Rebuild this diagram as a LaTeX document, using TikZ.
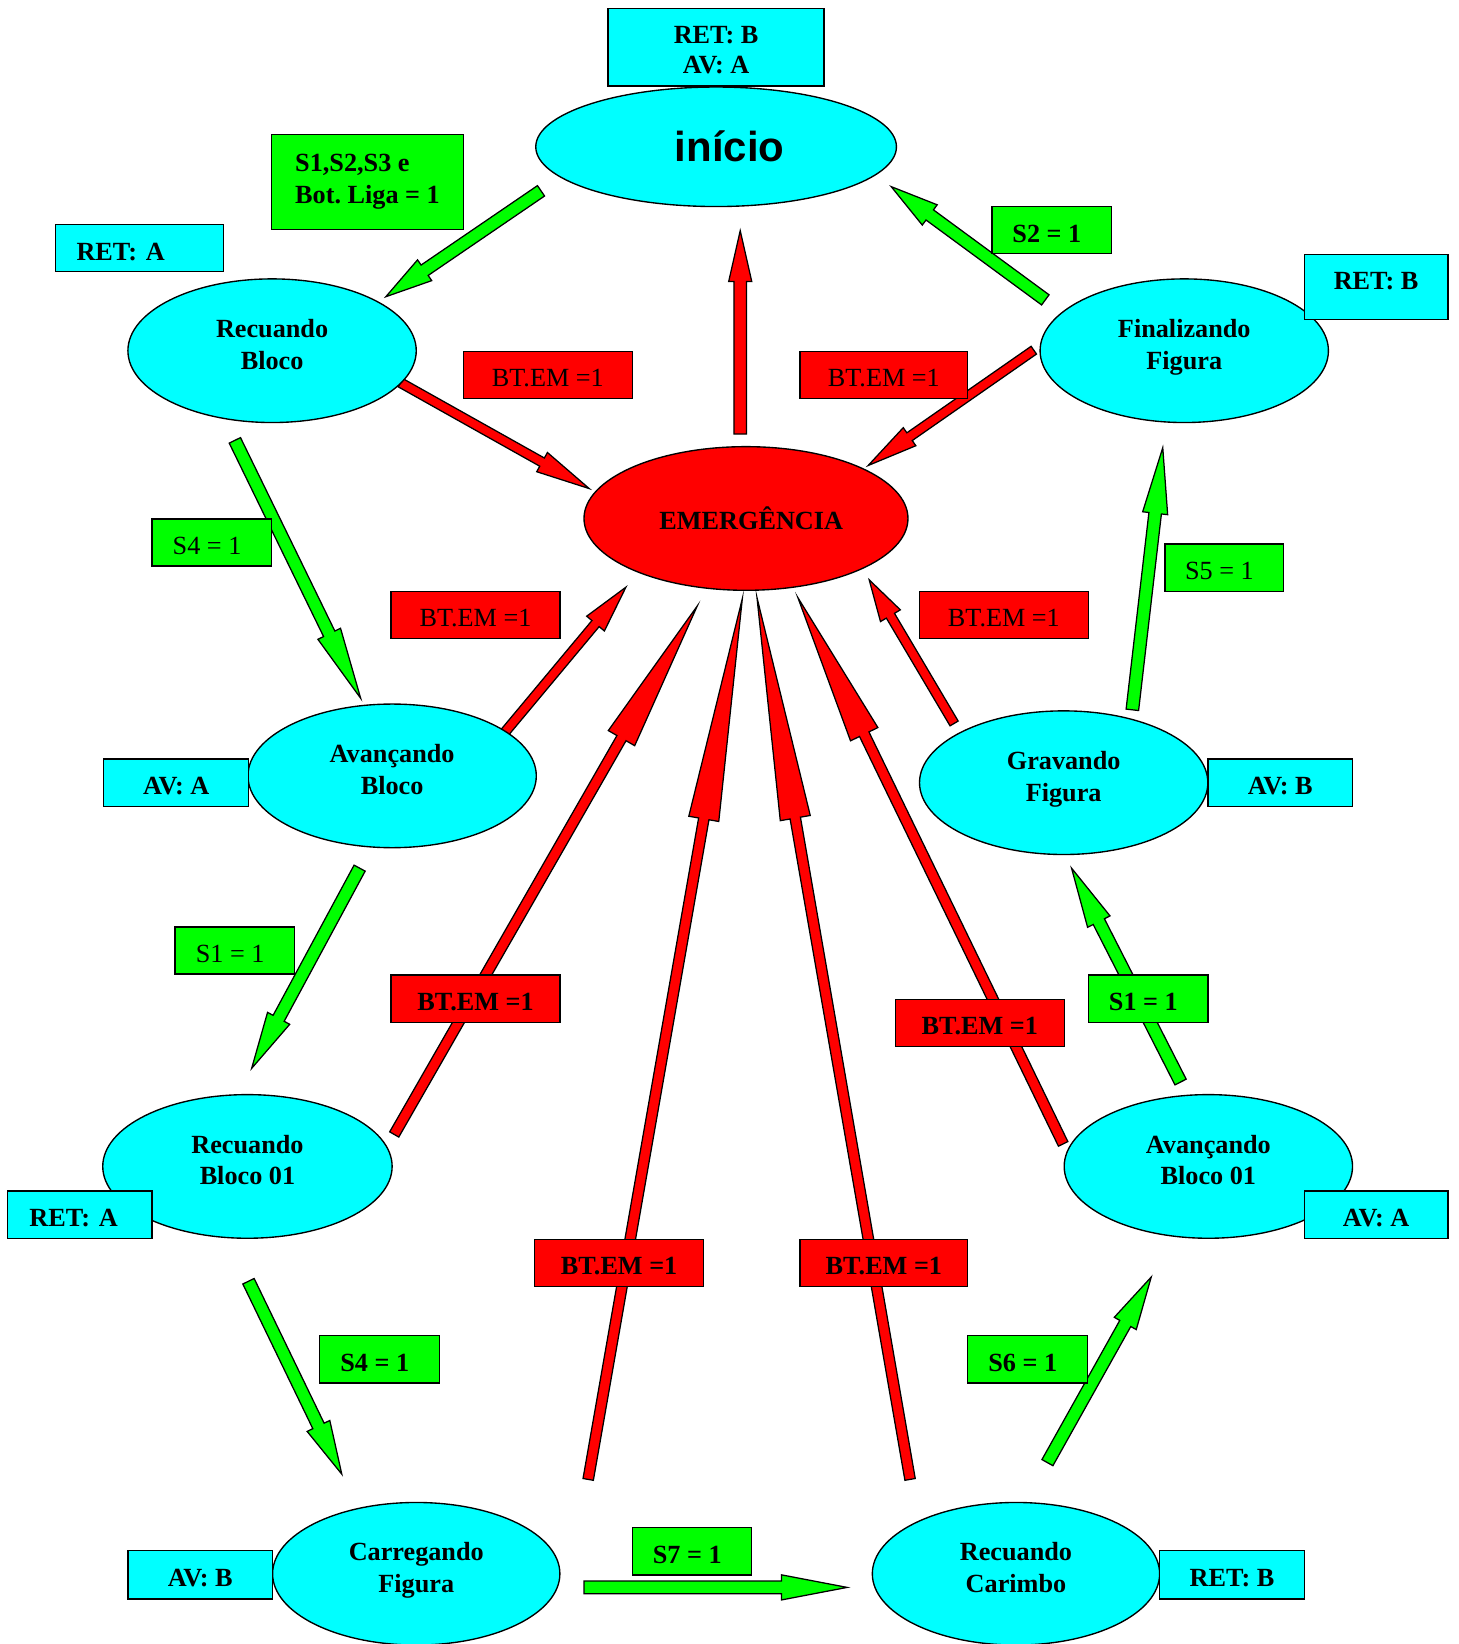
\documentclass[tikz,border=0pt]{standalone}
\usepackage{fontspec}
\setmainfont{Liberation Serif}
\newfontfamily\arialf{Liberation Sans}
\usetikzlibrary{shapes.geometric,calc}
\definecolor{cyanc}{HTML}{00FFFF}
\definecolor{greenc}{HTML}{00FF00}
\definecolor{redc}{HTML}{FF0000}
% block arrow: #1 fill, #2 tail, #3 tip, #4 shaft half width, #5 head half width
\newcommand{\blockarrow}[5]{%
  \coordinate (ba-p) at ($(#2)!0.75!(#3)$);
  \path[barrow, fill=#1] ($(#2)!#4!90:(#3)$) -- ($(ba-p)!#4!90:(#3)$) -- ($(ba-p)!#5!90:(#3)$) -- (#3) -- ($(ba-p)!#5!-90:(#3)$) -- ($(ba-p)!#4!-90:(#3)$) -- ($(#2)!#4!-90:(#3)$) -- cycle;}
\newcommand{\tsp}{\hspace*{9pt}}
\frenchspacing
\begin{document}
\begin{tikzpicture}[x=1pt,y=-1pt,
  st/.style={ellipse, draw=black, line width=1.3pt, fill=cyanc, minimum width=275pt, minimum height=137pt, inner sep=0pt, align=center, font=\bfseries\fontsize{25}{30}\selectfont},
  td/.style={text depth=12pt},
  lbl/.style={draw=black, line width=1.3pt, inner sep=0pt, minimum height=45pt, align=center, text height=23pt, text depth=0pt, font=\bfseries\fontsize{25}{29}\selectfont},
  cy/.style={lbl, fill=cyanc}, gr/.style={lbl, fill=greenc}, rd/.style={lbl, fill=redc},
  reg/.style={font=\fontsize{25}{29}\selectfont},
  wd/.style={minimum width=#1pt},
  barrow/.style={draw=black, line width=1.2pt, line join=miter, miter limit=20}]
\useasboundingbox (0,0) rectangle (1391,1568);
% arrow end points
\coordinate (g1a) at (516,182);  \coordinate (g1b) at (368,283);
\coordinate (g2a) at (997,286);  \coordinate (g2b) at (850,178);
\coordinate (g3a) at (224,420);  \coordinate (g3b) at (344,666);
\coordinate (g4a) at (343,828);  \coordinate (g4b) at (240,1019);
\coordinate (g5a) at (237,1222); \coordinate (g5b) at (326,1406);
\coordinate (g6a) at (557,1514); \coordinate (g6b) at (808,1514);
\coordinate (g7a) at (999,1395); \coordinate (g7b) at (1098,1218);
\coordinate (g8a) at (1126,1032);\coordinate (g8b) at (1022,828);
\coordinate (g9a) at (1080,677); \coordinate (g9b) at (1109,427);
\coordinate (r1a) at (706,414);  \coordinate (r1b) at (706,220);
\coordinate (r2a) at (382,365);  \coordinate (r2b) at (562,466);
\coordinate (r3a) at (986,334);  \coordinate (r3b) at (828,444);
\coordinate (r4a) at (481,699);  \coordinate (r4b) at (597,560);
\coordinate (r5a) at (910,690);  \coordinate (r5b) at (829,553);
\coordinate (r6a) at (376,1082); \coordinate (r6b) at (665,578);
\coordinate (r7a) at (1014,1091);\coordinate (r7b) at (761,570);
\coordinate (r8a) at (561,1411); \coordinate (r8b) at (708,571);
\coordinate (r9a) at (868,1411); \coordinate (r9b) at (722,570);
% arrows
\blockarrow{greenc}{g1a}{g1b}{6pt}{12pt}
\blockarrow{greenc}{g2a}{g2b}{6pt}{12pt}
\blockarrow{greenc}{g3a}{g3b}{6pt}{12pt}
\blockarrow{greenc}{g4a}{g4b}{6pt}{12pt}
\blockarrow{greenc}{g5a}{g5b}{6pt}{12pt}
\blockarrow{greenc}{g6a}{g6b}{6pt}{12pt}
\blockarrow{greenc}{g7a}{g7b}{6pt}{12pt}
\blockarrow{greenc}{g8a}{g8b}{6pt}{12pt}
\blockarrow{greenc}{g9a}{g9b}{6pt}{12pt}
\blockarrow{redc}{r1a}{r1b}{6pt}{11pt}
\blockarrow{redc}{r2a}{r2b}{4.5pt}{10.5pt}
\blockarrow{redc}{r3a}{r3b}{4.5pt}{10.5pt}
\blockarrow{redc}{r4a}{r4b}{4.5pt}{11pt}
\blockarrow{redc}{r5a}{r5b}{4.5pt}{11pt}
\blockarrow{redc}{r6a}{r6b}{5pt}{14.5pt}
\blockarrow{redc}{r7a}{r7b}{5pt}{14.5pt}
\blockarrow{redc}{r8a}{r8b}{5pt}{14.5pt}
\blockarrow{redc}{r9a}{r9b}{5pt}{14.5pt}
% states
\node[st, minimum width=344pt, minimum height=114pt, font=\arialf\bfseries\fontsize{40}{48}\selectfont] (inicio) at (683,140) {\hspace*{26pt}início};
\node[st, td] (rb) at (259.5,334.5) {Recuando\\Bloco};
\node[st, td] (ff) at (1129.5,334.5) {Finalizando\\Figura};
\node[st, fill=redc, minimum width=309pt] (em) at (711.5,494.5) {\hspace*{10pt}EMERGÊNCIA};
\node[st, td] (ab) at (374,740) {Avançando\\Bloco};
\node[st, td] (gf) at (1014.5,746.5) {Gravando\\Figura};
\node[st, td, minimum width=276pt] (rb1) at (236,1112.5) {Recuando\\Bloco 01};
\node[st, td] (ab1) at (1152.5,1112.5) {Avançando\\Bloco 01};
\node[st, td, minimum width=274pt, minimum height=136pt] (cf) at (397,1501) {Carregando\\Figura};
\node[st, td, minimum width=274pt, minimum height=136pt] (rc) at (969,1501) {Recuando\\Carimbo};
% labels
\node[cy, wd=206, minimum height=74pt, text height=, text depth=] (l1) at (683,45) {\rule{0pt}{22.5pt}RET: B\\AV: A};
\node[gr, wd=183, minimum height=91pt, align=left, text height=, text depth=, font=\bfseries\fontsize{25}{31}\selectfont] (l2) at (350.5,173.5) {S1,S2,S3 e\\Bot. Liga = 1};
\node[cy, wd=160, inner xsep=20pt, text width=120pt, align=left] (l3) at (133,236.5) {RET: A};
\node[gr, wd=114] (l4) at (1003,219.5) {S2 = 1\tsp};
\node[cy, wd=137, minimum height=62pt, text height=16.5pt, text depth=11.5pt] (l5) at (1312.5,274) {RET: B};
\node[rd, reg, wd=161] (l6) at (522.5,357.5) {BT.EM =1};
\node[rd, reg, wd=160] (l7) at (843,357.5) {BT.EM =1};
\node[gr, reg, wd=114] (l8) at (202,517.5) {S4 = 1\tsp};
\node[rd, reg, wd=161] (l9) at (453.5,586.5) {BT.EM =1};
\node[rd, reg, wd=161] (l10) at (957.5,586.5) {BT.EM =1};
\node[gr, reg, wd=113] (l11) at (1167.5,541.5) {S5 = 1\tsp};
\node[cy, wd=138] (l12) at (168,746.5) {AV: A};
\node[cy, wd=138] (l13) at (1221,746.5) {AV: B};
\node[gr, reg, wd=114] (l14) at (224,906.5) {S1 = 1\tsp};
\node[rd, wd=161] (l15) at (453.5,952.5) {BT.EM =1};
\node[rd, wd=161] (l16) at (934.5,975.5) {BT.EM =1};
\node[gr, wd=114] (l17) at (1095,952.5) {S1 = 1\tsp};
\node[cy, wd=138, inner xsep=21pt, text width=96pt, align=left] (l18) at (76,1158.5) {RET: A};
\node[cy, wd=137] (l19) at (1312.5,1158.5) {AV: A};
\node[rd, wd=161] (l20) at (590.5,1204.5) {BT.EM =1};
\node[rd, wd=160] (l21) at (843,1204.5) {BT.EM =1};
\node[gr, wd=114] (l22) at (362,1296.5) {S4 = 1\tsp};
\node[gr, wd=114] (l23) at (980,1296.5) {S6 = 1\tsp};
\node[gr, wd=114] (l24) at (660,1479.5) {S7 = 1\tsp};
\node[cy, wd=138, minimum height=46pt] (l25) at (191,1502) {AV: B};
\node[cy, wd=138, minimum height=46pt] (l26) at (1175,1502) {RET: B};
\end{tikzpicture}
\end{document}
